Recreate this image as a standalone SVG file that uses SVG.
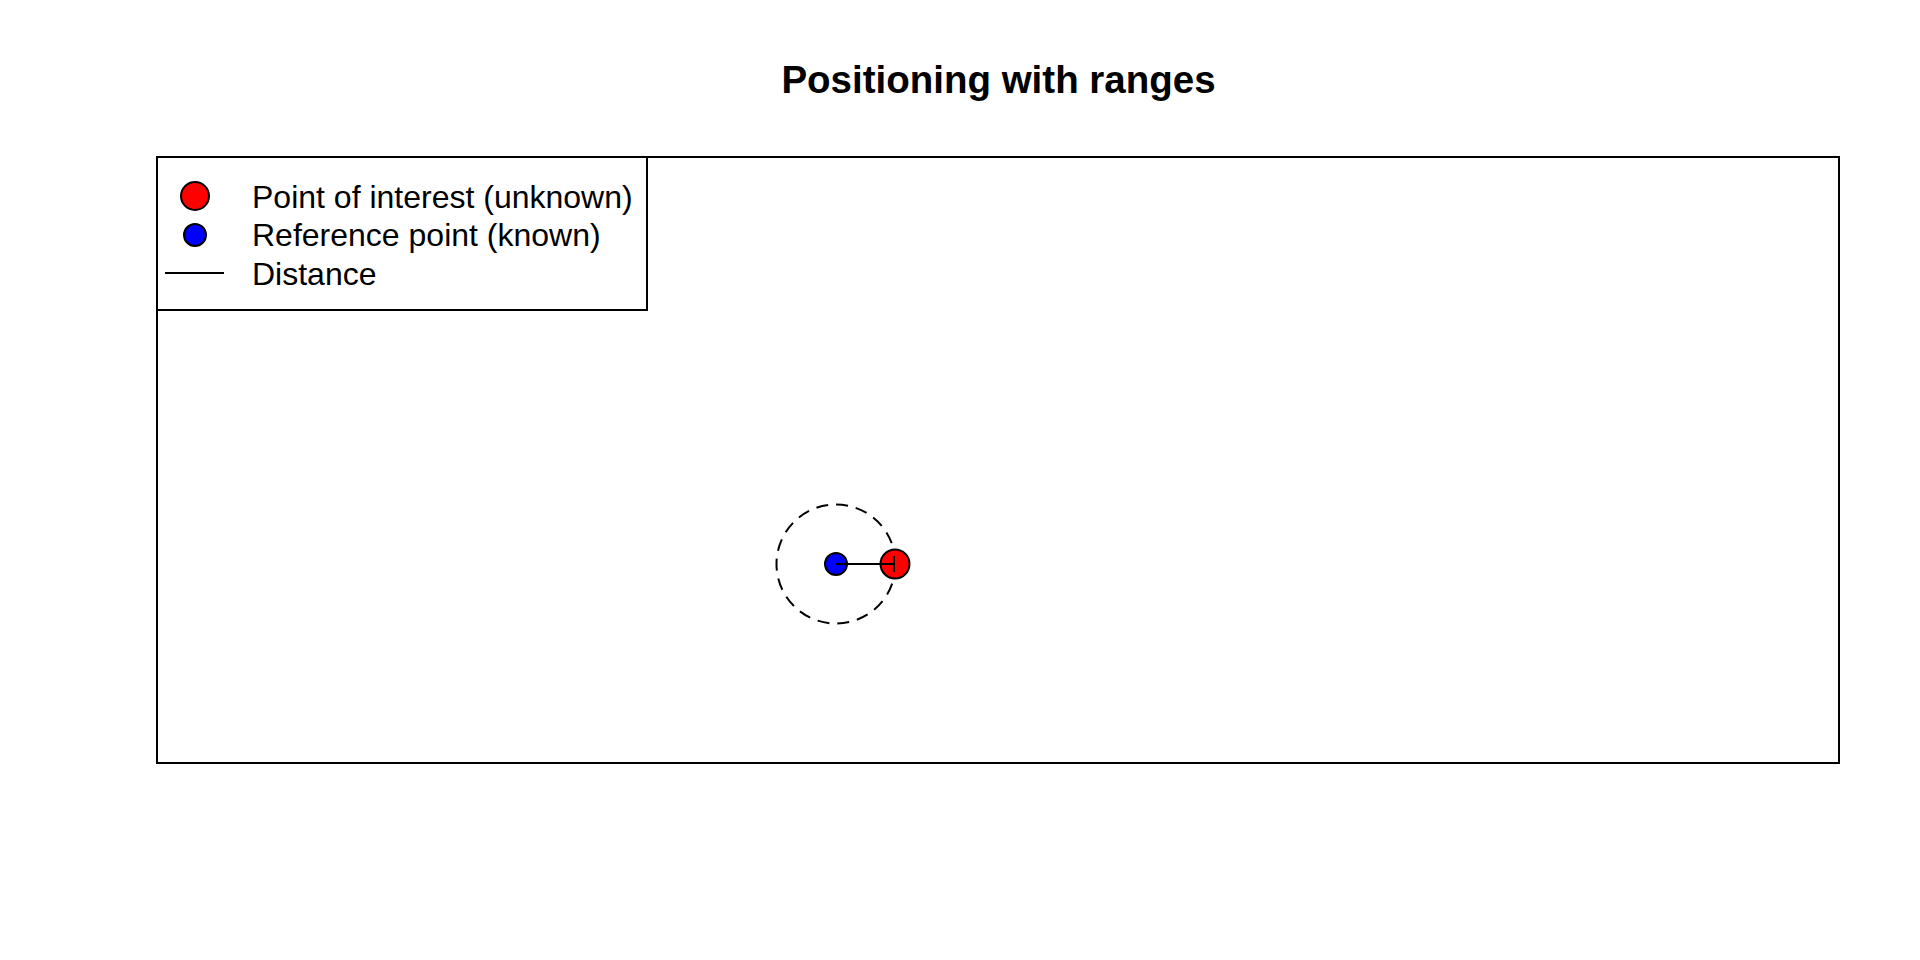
<svg xmlns="http://www.w3.org/2000/svg" width="1920" height="960" viewBox="0 0 1920 960">
<style>
.txt{font-family:"Liberation Sans",Arial,sans-serif;fill:#000}
.title{font-size:38.5px;font-weight:bold}
.leg{font-size:32px}
.frame{fill:none;stroke:#000;stroke-width:2}
.pt{stroke:#000;stroke-width:2}
.red{fill:#ff0000}
.blue{fill:#0000ff}
.ln{stroke:#000;stroke-width:2;fill:none}
.dash{stroke:#000;stroke-width:2;fill:none;stroke-dasharray:12 8}
</style>
<rect width="1920" height="960" fill="#fff"/>
<text class="txt title" x="998.5" y="92.5" text-anchor="middle">Positioning with ranges</text>
<rect id="plot-frame" class="frame" x="157" y="157" width="1682" height="606"/>
<g id="legend">
<rect class="frame" x="157" y="157" width="490" height="153"/>
<circle class="pt red" cx="195" cy="196" r="14"/>
<circle class="pt blue" cx="195" cy="235" r="11"/>
<line class="ln" x1="165" y1="273" x2="224" y2="273"/>
<text class="txt leg" x="252" y="208">Point of interest (unknown)</text>
<text class="txt leg" x="252" y="246">Reference point (known)</text>
<text class="txt leg" x="252" y="285">Distance</text>
</g>
<g id="range-circle">
<circle class="dash" cx="836" cy="564" r="59.5"/>
</g>
<g id="reference-point">
<circle class="pt blue" cx="836" cy="564" r="11"/>
</g>
<g id="point-of-interest">
<circle class="pt red" cx="895" cy="564" r="14.5"/>
</g>
<g id="connectors">
<line class="ln" x1="836" y1="564" x2="894" y2="564"/>
<line class="ln" x1="894" y1="556" x2="894" y2="572"/>
</g>
</svg>
